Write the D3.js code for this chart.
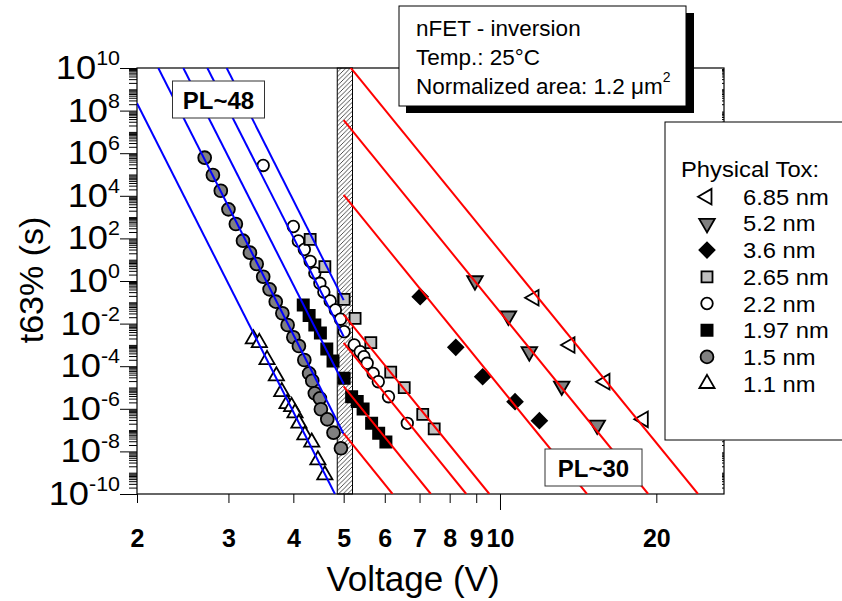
<!DOCTYPE html>
<html><head><meta charset="utf-8">
<script src="https://cdn.jsdelivr.net/npm/d3@7"></script>
<style>
body{margin:0;background:#fff}
svg{display:block}
text{font-family:"Liberation Sans",Arial,Helvetica,sans-serif;fill:#000}
</style>
</head><body>
<svg id="chart" width="842" height="601"></svg>
<script>
// ---------- data ----------
const seriesNames = ["6.85 nm","5.2 nm","3.6 nm","2.65 nm","2.2 nm","1.97 nm","1.5 nm","1.1 nm"];
// [Voltage (V), t63% (s)]
const tox685 = [[11.63,0.164],[13.64,9.9e-4],[15.93,1.87e-5],[18.88,3.2e-7]];
const tox52  = [[8.95,1.03],[10.38,0.0228],[11.39,4.8e-4],[13.15,1.17e-5],[15.39,1.73e-7]];
const tox36  = [[7.02,0.183],[8.22,7.7e-4],[9.26,3.2e-5],[10.69,2.15e-6],[11.91,2.76e-7]];
const tox265 = [[4.31,90.8],[4.60,4.69],[5.01,0.138],[5.26,0.0177],[5.64,1.27e-3],[6.16,5.3e-5],[6.54,9.8e-6],[7.10,5.5e-7],[7.47,1.13e-7]];
const tox22  = [[3.50,2.65e5],[4.00,362],[4.09,75.5],[4.20,30.1],[4.31,8.4],[4.40,2.38],[4.50,0.78],[4.58,0.305],[4.71,0.115],[4.82,0.0435],[4.93,0.0161],[5.01,4.17e-3],[5.24,9.9e-4],[5.38,4.8e-4],[5.47,2.8e-4],[5.55,1.37e-4],[5.70,4.6e-5],[5.83,1.87e-5],[6.10,3.7e-6],[6.63,2.08e-7]];
const tox197 = [[4.18,0.0746],[4.29,0.024],[4.40,8.6e-3],[4.51,3.6e-3],[4.64,6.4e-4],[4.77,1.75e-4],[5.01,2.7e-5],[5.18,3.7e-6],[5.31,2.2e-6],[5.45,9.8e-7],[5.66,2.08e-7],[5.84,7.1e-8],[6.03,2.76e-8]];
const tox15  = [[2.70,6.15e5],[2.80,9.5e4],[2.90,1.73e4],[3.00,2.32e3],[3.10,474],[3.20,78],[3.30,21.3],[3.40,6.28],[3.50,1.59],[3.60,0.407],[3.70,0.107],[3.81,0.0305],[3.90,8.6e-3],[4.00,2.28e-3],[4.10,8.9e-4],[4.20,1.95e-4],[4.29,4.6e-5],[4.35,2.08e-5],[4.40,5.3e-6],[4.50,3.1e-6],[4.52,9.5e-7],[4.65,3.2e-7],[4.78,7.55e-8],[4.94,1.4e-8]];
const tox11  = [[3.35,1.89e-3],[3.44,1.27e-3],[3.56,2.02e-4],[3.71,3.47e-5],[3.80,6.35e-6],[3.89,1.73e-6],[3.97,1.26e-6],[4.03,6.35e-7],[4.10,2.08e-7],[4.21,5.9e-8],[4.34,2.7e-8],[4.46,3.95e-9],[4.60,7.8e-10]];

// power-law fit lines, [[V1,t1],[V2,t2]]
const blueFits = [
  [[2.0,2.2e8],[4.81,1e-10]],
  [[2.198,1e10],[5.0,6.6e-8]],
  [[2.456,1e10],[5.0,1.45e-5]],
  [[2.732,1e10],[5.0,2.5e-3]],
  [[2.977,1e10],[5.0,0.126]]
];
const redFits = [
  [[5.0,7.1e-8],[6.21,1e-10]],
  [[5.0,1.12e-5],[7.36,1e-10]],
  [[5.0,1.26e-3],[8.61,1e-10]],
  [[5.0,0.0263],[9.54,1e-10]],
  [[5.0,1.1e4],[14.71,1e-10]],
  [[5.0,3.6e7],[19.29,1e-10]],
  [[5.0,2.6e10],[24.06,1e-10]]
];
const bandV = [4.86, 5.2];
const xTicks = [2,3,4,5,6,7,8,9,10,20];
const yTickExp = [10,8,6,4,2,0,-2,-4,-6,-8,-10];

// ---------- setup ----------
const svg = d3.select("#chart");
const L = 137, R = 724, T = 68, B = 494;
const x = d3.scaleLog().domain([2, 27]).range([L, R]);
const y = d3.scaleLog().domain([1e-10, 1e10]).range([B, T]);

const defs = svg.append("defs");
defs.append("clipPath").attr("id","plotclip")
  .append("rect").attr("x",L).attr("y",T).attr("width",R-L).attr("height",B-T);
const hp = defs.append("pattern").attr("id","hatch")
  .attr("patternUnits","userSpaceOnUse").attr("width",4.5).attr("height",4.5);
hp.append("path").attr("d","M-1,1 l2,-2 M0,4.5 l4.5,-4.5 M3.5,5.5 l2,-2").attr("stroke","#222").attr("stroke-width",0.8);

// hatched band
svg.append("rect").attr("x",x(bandV[0])).attr("y",T).attr("width",x(bandV[1])-x(bandV[0])).attr("height",B-T)
  .attr("fill","url(#hatch)").attr("stroke","#000").attr("stroke-width",1);

// ---------- axes ----------
const minorY = [];
for (let d=-10; d<10; d++) for (let k=2;k<=9;k++) minorY.push(k*Math.pow(10,d));
const oddY = [];
for (let d=-9; d<10; d+=2) oddY.push(Math.pow(10,d));

const gyMinor = svg.append("g").attr("transform",`translate(${L},0)`)
  .call(d3.axisLeft(y).tickValues(minorY.concat(oddY)).tickSize(8).tickFormat(""));
const gyMajor = svg.append("g").attr("transform",`translate(${L},0)`)
  .call(d3.axisLeft(y).tickValues(yTickExp.map(e=>Math.pow(10,e))).tickSize(17).tickFormat(""));
const gyR = svg.append("g").attr("transform",`translate(${R},0)`)
  .call(d3.axisRight(y).tickValues(minorY.concat(oddY)).tickSize(-2).tickFormat(""));
[gyMinor,gyMajor,gyR].forEach(g=>{g.select(".domain").remove(); g.selectAll("line").attr("stroke","#000").attr("stroke-width",1);});

// y tick labels 10^n
yTickExp.forEach(e=>{
  const yy = y(Math.pow(10,e));
  const t = svg.append("text").attr("transform",`translate(120,${yy+11}) scale(1.1,1)`).attr("text-anchor","end");
  t.append("tspan").attr("font-size",33).text("10");
  t.append("tspan").attr("font-size",19.5).attr("dy",-14).text(String(e));
});

// x axis
const gx = svg.append("g").attr("transform",`translate(0,${B})`)
  .call(d3.axisBottom(x).tickValues(xTicks).tickSize(9).tickPadding(26).tickFormat(d3.format("d")));
gx.select(".domain").remove();
gx.selectAll("line").attr("stroke","#000");
gx.selectAll(".tick").filter(d=>d===10).select("line").attr("y2",16);
gx.selectAll("text").attr("font-size",25).attr("font-weight","bold").attr("font-family","Liberation Sans, Arial, sans-serif").attr("fill","#000");

// frame
svg.append("rect").attr("x",L).attr("y",T).attr("width",R-L).attr("height",B-T)
  .attr("fill","none").attr("stroke","#000").attr("stroke-width",1.2);

// ---------- markers ----------
const sym = (type,size)=>d3.symbol().type(type).size(size)();
const styles = {
  "6.85 nm":{d:sym(d3.symbolTriangle,105),rot:-90,fill:"#fff"},
  "5.2 nm":{d:sym(d3.symbolTriangle,105),rot:180,fill:"#808080"},
  "3.6 nm":{d:sym(d3.symbolSquare,115),rot:45,fill:"#000"},
  "2.65 nm":{d:sym(d3.symbolSquare,121),rot:0,fill:"#c0c0c0"},
  "2.2 nm":{d:sym(d3.symbolCircle,105),rot:0,fill:"#fff"},
  "1.97 nm":{d:sym(d3.symbolSquare,125),rot:0,fill:"#000"},
  "1.5 nm":{d:sym(d3.symbolCircle,130),rot:0,fill:"#808080"},
  "1.1 nm":{d:sym(d3.symbolTriangle,100),rot:0,fill:"#fff"}
};
const allSeries = [tox685,tox52,tox36,tox265,tox22,tox197,tox15,tox11];
const gm = svg.append("g").attr("clip-path","url(#plotclip)");
allSeries.slice().reverse().forEach((data,ri)=>{
  const name = seriesNames[seriesNames.length-1-ri];
  const st = styles[name];
  gm.selectAll(null).data(data).enter().append("path")
    .attr("d",st.d)
    .attr("transform",d=>`translate(${x(d[0])},${y(d[1])}) rotate(${st.rot})`)
    .attr("fill",st.fill).attr("stroke","#000").attr("stroke-width",1.8);
});

// ---------- fit lines ----------
const line = d3.line().x(d=>x(d[0])).y(d=>y(d[1]));
const gl = svg.append("g").attr("clip-path","url(#plotclip)");
blueFits.forEach(f=>gl.append("path").attr("d",line(f)).attr("stroke","#0000ff").attr("stroke-width",2).attr("fill","none"));
redFits.forEach(f=>gl.append("path").attr("d",line(f)).attr("stroke","#ff0000").attr("stroke-width",2).attr("fill","none"));

// ---------- label boxes ----------
function labelBox(x0,y0,w,h,txt){
  svg.append("rect").attr("x",x0).attr("y",y0).attr("width",w).attr("height",h)
    .attr("fill","#fff").attr("stroke","#333").attr("stroke-width",1);
  svg.append("text").attr("x",x0+w/2).attr("y",y0+h/2+9).attr("text-anchor","middle")
    .attr("font-size",24).attr("font-weight","bold").text(txt);
}
labelBox(172.5,81,92,37,"PL~48");
labelBox(545,449,97,37,"PL~30");

// annotation box with shadow
svg.append("rect").attr("x",406).attr("y",13).attr("width",288).attr("height",100).attr("fill","#000");
svg.append("rect").attr("x",399).attr("y",6).attr("width",287).attr("height",100).attr("fill","#fff").attr("stroke","#000").attr("stroke-width",1);
const ann = ["nFET - inversion","Temp.: 25°C"];
ann.forEach((s,i)=>svg.append("text").attr("x",416).attr("y",36+i*29).attr("font-size",22.5).text(s));
const an3 = svg.append("text").attr("x",416).attr("y",94).attr("font-size",22.5);
an3.append("tspan").text("Normalized area: 1.2 ");
an3.append("tspan").text("μm");
an3.append("tspan").attr("font-size",14).attr("dy",-12).text("2");

// legend
svg.append("rect").attr("x",665).attr("y",122).attr("width",200).attr("height",318)
  .attr("fill","#fff").attr("stroke","#000").attr("stroke-width",1);
svg.append("text").attr("transform","translate(681,177) scale(1.08,1)").attr("font-size",22).text("Physical Tox:");
seriesNames.forEach((n,i)=>{
  const cy = 196.7 + i*26.7;
  const st = styles[n];
  svg.append("path").attr("d",st.d).attr("transform",`translate(707,${cy}) rotate(${st.rot})`)
    .attr("fill",st.fill).attr("stroke","#000").attr("stroke-width",1.8);
  svg.append("text").attr("transform",`translate(743,${cy+8}) scale(1.08,1)`).attr("font-size",22).text(n);
});

// axis titles
svg.append("text").attr("transform","translate(43,280) rotate(-90)").attr("text-anchor","middle")
  .attr("font-size",34).text("t63% (s)");
svg.append("text").attr("x",413).attr("y",591).attr("text-anchor","middle")
  .attr("font-size",35).text("Voltage (V)");
</script>
</body></html>
